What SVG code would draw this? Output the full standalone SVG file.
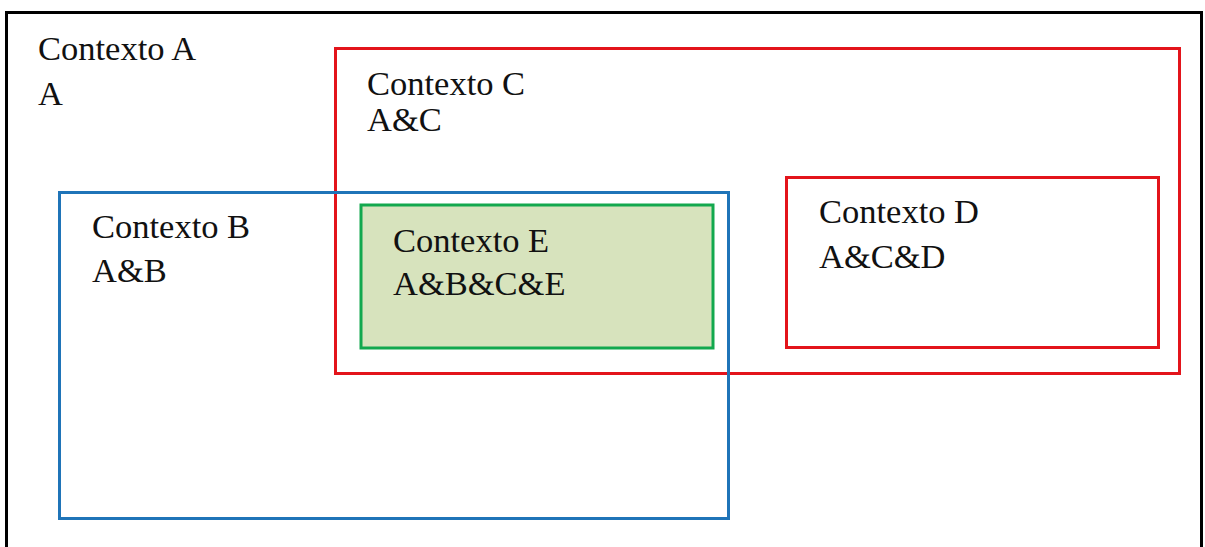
<svg xmlns="http://www.w3.org/2000/svg" width="1205" height="547" viewBox="0 0 1205 547">
  <style>
    .lbl { font-family: "Liberation Serif", "Times New Roman", serif; font-size: 34.5px; fill: #111; }
    .frame { fill: none; stroke: #000; stroke-width: 3; }
    .red { fill: none; stroke: #E3141B; stroke-width: 3; }
    .blue { fill: none; stroke: #1F74B8; stroke-width: 3; }
    .green { fill: #D7E3BD; stroke: #12A84E; stroke-width: 3; }
  </style>
  <rect width="1205" height="547" fill="#fff"/>

  <!-- Contexto A: outer frame -->
  <g id="ctx-a">
    <rect class="frame" x="6.5" y="12.5" width="1195" height="545"/>
    <text class="lbl" x="38" y="60">Contexto A</text>
    <text class="lbl" x="38" y="105">A</text>
  </g>

  <!-- Contexto C -->
  <g id="ctx-c">
    <rect class="red" x="335.5" y="48.5" width="844" height="325"/>
    <text class="lbl" x="367" y="95">Contexto C</text>
    <text class="lbl" x="367" y="131">A&amp;C</text>
  </g>

  <!-- Contexto B -->
  <g id="ctx-b">
    <rect class="blue" x="59.5" y="192.5" width="669" height="326"/>
    <text class="lbl" x="92" y="238">Contexto B</text>
    <text class="lbl" x="92" y="282">A&amp;B</text>
  </g>

  <!-- Contexto E -->
  <g id="ctx-e">
    <rect class="green" x="361" y="205" width="352" height="143"/>
    <text class="lbl" x="393" y="252">Contexto E</text>
    <text class="lbl" x="393" y="295">A&amp;B&amp;C&amp;E</text>
  </g>

  <!-- Contexto D -->
  <g id="ctx-d">
    <rect class="red" x="786.5" y="177.5" width="372" height="170"/>
    <text class="lbl" x="819" y="223">Contexto D</text>
    <text class="lbl" x="819" y="268">A&amp;C&amp;D</text>
  </g>

  <g id="connectors"></g>
</svg>
